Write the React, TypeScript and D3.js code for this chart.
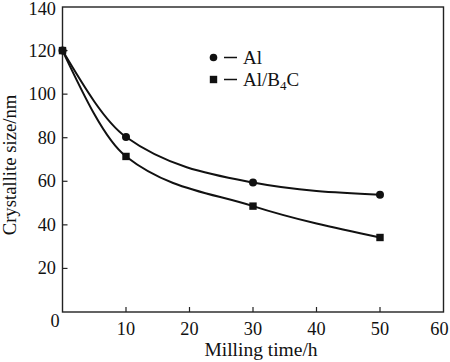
import * as d3 from "d3";

type Pt = { t: number; v: number };

const width = 450;
const height = 362;
const plot = { left: 62.5, right: 443.5, top: 7, bottom: 312 };

const hours = [0, 10, 30, 50];
const alSize = [120, 80.3, 59.4, 53.8];
const alB4cSize = [120, 71.4, 48.6, 34.2];
const xTicks = [10, 20, 30, 40, 50, 60];
const yTicks = [20, 40, 60, 80, 100, 120, 140];

const font = "'Liberation Serif', 'Times New Roman', serif";

const toPts = (vals: number[]): Pt[] => hours.map((t, i) => ({ t, v: vals[i] }));

const App = () => {
  const x = d3.scaleLinear().domain([0, 60]).range([plot.left, plot.right]);
  const y = d3.scaleLinear().domain([0, 140]).range([plot.bottom, plot.top]);

  const line = d3
    .line<Pt>()
    .x((d) => x(d.t))
    .y((d) => y(d.v))
    .curve(d3.curveMonotoneX);

  const al = toPts(alSize);
  const alB = toPts(alB4cSize);

  return (
    <svg
      width={width}
      height={height}
      style={{ position: "absolute", left: 0, top: 0, background: "#fff" }}
      fontFamily={font}
    >
      {/* frame */}
      <rect
        x={plot.left}
        y={plot.top}
        width={plot.right - plot.left}
        height={plot.bottom - plot.top}
        fill="none"
        stroke="#222"
        strokeWidth={1.4}
      />

      {/* x ticks */}
      {xTicks.map((t) => (
        <g key={"x" + t}>
          {t < 60 && (
            <line x1={x(t)} x2={x(t)} y1={plot.bottom} y2={plot.bottom - 5} stroke="#222" strokeWidth={1.2} />
          )}
          <text x={t === 60 ? x(t) - 4 : x(t)} y={335} textAnchor="middle" fontSize={18.3} fill="#111">
            {t}
          </text>
        </g>
      ))}

      {/* y ticks */}
      {yTicks.map((v) => (
        <g key={"y" + v}>
          {v < 140 && (
            <line x1={plot.left} x2={plot.left + 5} y1={y(v)} y2={y(v)} stroke="#222" strokeWidth={1.2} />
          )}
          <text x={56} y={v === 140 ? y(v) + 8 : y(v) + 6} textAnchor="end" fontSize={18.3} fill="#111">
            {v}
          </text>
        </g>
      ))}
      <text x={55} y={327} textAnchor="middle" fontSize={18.3} fill="#111">
        0
      </text>

      {/* axis titles */}
      <text x={261} y={356} textAnchor="middle" fontSize={19.5} fill="#111">
        Milling time/h
      </text>
      <text
        transform={`translate(15.5,165) rotate(-90)`}
        textAnchor="middle"
        fontSize={18.7}
        fill="#111"
      >
        Crystallite size/nm
      </text>

      {/* curves */}
      <path d={line(al) ?? ""} fill="none" stroke="#111" strokeWidth={2} />
      <path d={line(alB) ?? ""} fill="none" stroke="#111" strokeWidth={2} />

      {al.map((d, i) => (
        <circle key={"c" + i} cx={x(d.t)} cy={y(d.v)} r={4} fill="#111" />
      ))}
      {alB.map((d, i) => (
        <rect key={"s" + i} x={x(d.t) - 3.7} y={y(d.v) - 3.7} width={7.4} height={7.4} fill="#111" />
      ))}

      {/* legend */}
      <circle cx={213.5} cy={57.5} r={3.8} fill="#111" />
      <line x1={224} x2={237} y1={57.5} y2={57.5} stroke="#111" strokeWidth={1.5} />
      <text x={243} y={64} fontSize={19} fill="#111">
        Al
      </text>
      <rect x={209.8} y={75.8} width={7.4} height={7.4} fill="#111" />
      <line x1={224} x2={237} y1={79.5} y2={79.5} stroke="#111" strokeWidth={1.5} />
      <text x={243} y={86} fontSize={19} fill="#111">
        Al/B
        <tspan dy={4} fontSize={13}>
          4
        </tspan>
        <tspan dy={-4}>C</tspan>
      </text>
    </svg>
  );
};

export default App;
